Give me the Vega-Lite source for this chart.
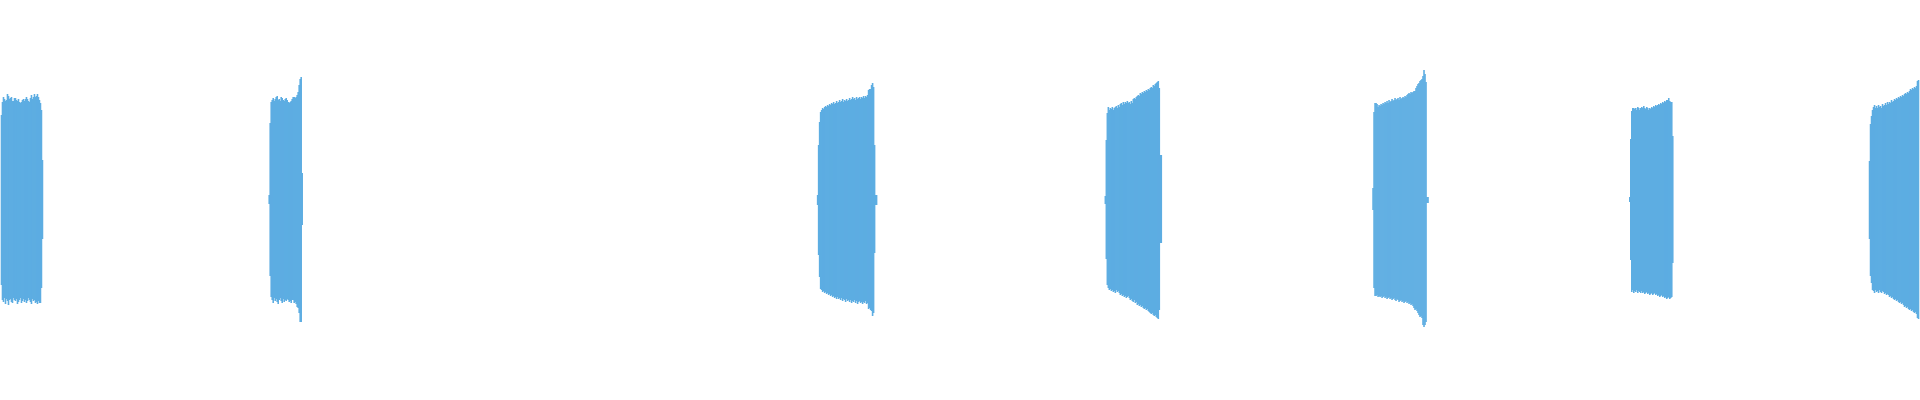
{
  "$schema": "https://vega.github.io/schema/vega-lite/v6.json",
  "width": 1920,
  "height": 400,
  "autosize": {"type": "fit", "contains": "padding"},
  "padding": 0,
  "background": "white",
  "data": {"values": [
    {"x":0,"hi":85,"lo":-85},
    {"x":1,"hi":98,"lo":-100},{"x":2,"hi":103,"lo":-102},{"x":3,"hi":101,"lo":-98},{"x":4,"hi":99,"lo":-104},{"x":5,"hi":100,"lo":-99},
    {"x":6,"hi":106,"lo":-101},{"x":7,"hi":104,"lo":-105},{"x":8,"hi":101,"lo":-100},{"x":9,"hi":102,"lo":-99},{"x":10,"hi":103,"lo":-102},
    {"x":11,"hi":99,"lo":-103},{"x":12,"hi":99,"lo":-98},{"x":13,"hi":102,"lo":-100},{"x":14,"hi":102,"lo":-101},{"x":15,"hi":100,"lo":-99},
    {"x":16,"hi":99,"lo":-104},{"x":17,"hi":101,"lo":-102},{"x":18,"hi":98,"lo":-100},{"x":19,"hi":97,"lo":-98},{"x":20,"hi":98,"lo":-103},
    {"x":21,"hi":100,"lo":-101},{"x":22,"hi":101,"lo":-99},{"x":23,"hi":99,"lo":-102},{"x":24,"hi":101,"lo":-100},{"x":25,"hi":103,"lo":-103},
    {"x":26,"hi":101,"lo":-101},{"x":27,"hi":99,"lo":-98},{"x":28,"hi":98,"lo":-100},{"x":29,"hi":102,"lo":-102},{"x":30,"hi":105,"lo":-104},
    {"x":31,"hi":101,"lo":-99},{"x":32,"hi":103,"lo":-101},{"x":33,"hi":106,"lo":-100},{"x":34,"hi":103,"lo":-103},{"x":35,"hi":104,"lo":-102},
    {"x":36,"hi":106,"lo":-104},{"x":37,"hi":103,"lo":-101},{"x":38,"hi":100,"lo":-103},{"x":39,"hi":97,"lo":-103},{"x":40,"hi":90,"lo":-88},
    {"x":41,"hi":40,"lo":-39},

    {"x":268,"hi":5,"lo":-4},{"x":269,"hi":77,"lo":-76},{"x":270,"hi":98,"lo":-97},
    {"x":271,"hi":100,"lo":-100},{"x":272,"hi":102,"lo":-103},{"x":273,"hi":99,"lo":-98},{"x":274,"hi":101,"lo":-101},{"x":275,"hi":103,"lo":-99},
    {"x":276,"hi":104,"lo":-102},{"x":277,"hi":100,"lo":-104},{"x":278,"hi":101,"lo":-100},{"x":279,"hi":99,"lo":-98},{"x":280,"hi":103,"lo":-101},
    {"x":281,"hi":102,"lo":-103},{"x":282,"hi":100,"lo":-99},{"x":283,"hi":99,"lo":-102},{"x":284,"hi":101,"lo":-100},{"x":285,"hi":102,"lo":-101},
    {"x":286,"hi":100,"lo":-99},{"x":287,"hi":98,"lo":-100},{"x":288,"hi":97,"lo":-102},{"x":289,"hi":98,"lo":-101},{"x":290,"hi":99,"lo":-103},
    {"x":291,"hi":101,"lo":-100},{"x":292,"hi":103,"lo":-100},{"x":293,"hi":103,"lo":-103},{"x":294,"hi":102,"lo":-102},{"x":295,"hi":103,"lo":-104},
    {"x":296,"hi":105,"lo":-107},{"x":297,"hi":108,"lo":-108},{"x":298,"hi":115,"lo":-113},{"x":299,"hi":121,"lo":-122},{"x":300,"hi":123,"lo":-122},
    {"x":301,"hi":27,"lo":-25},

    {"x":817,"hi":5,"lo":-5},{"x":818,"hi":55,"lo":-55},{"x":819,"hi":78,"lo":-77},{"x":820,"hi":88,"lo":-89},
    {"x":821,"hi":90,"lo":-90},{"x":822,"hi":92,"lo":-92},{"x":823,"hi":91,"lo":-91},{"x":824,"hi":93,"lo":-93},{"x":825,"hi":94,"lo":-92},
    {"x":826,"hi":93,"lo":-94},{"x":827,"hi":95,"lo":-93},{"x":828,"hi":94,"lo":-95},{"x":829,"hi":96,"lo":-94},{"x":830,"hi":95,"lo":-96},
    {"x":831,"hi":97,"lo":-95},{"x":832,"hi":96,"lo":-97},{"x":833,"hi":98,"lo":-96},{"x":834,"hi":96,"lo":-98},{"x":835,"hi":97,"lo":-97},
    {"x":836,"hi":99,"lo":-99},{"x":837,"hi":97,"lo":-97},{"x":838,"hi":98,"lo":-99},{"x":839,"hi":100,"lo":-98},{"x":840,"hi":98,"lo":-100},
    {"x":841,"hi":99,"lo":-98},{"x":842,"hi":101,"lo":-101},{"x":843,"hi":98,"lo":-99},{"x":844,"hi":100,"lo":-100},{"x":845,"hi":99,"lo":-102},
    {"x":846,"hi":101,"lo":-99},{"x":847,"hi":99,"lo":-101},{"x":848,"hi":100,"lo":-100},{"x":849,"hi":102,"lo":-102},{"x":850,"hi":100,"lo":-100},
    {"x":851,"hi":101,"lo":-103},{"x":852,"hi":103,"lo":-101},{"x":853,"hi":101,"lo":-102},{"x":854,"hi":102,"lo":-100},{"x":855,"hi":100,"lo":-103},
    {"x":856,"hi":103,"lo":-101},{"x":857,"hi":101,"lo":-104},{"x":858,"hi":102,"lo":-102},{"x":859,"hi":103,"lo":-101},{"x":860,"hi":101,"lo":-103},
    {"x":861,"hi":103,"lo":-102},{"x":862,"hi":102,"lo":-104},{"x":863,"hi":104,"lo":-102},{"x":864,"hi":102,"lo":-103},{"x":865,"hi":104,"lo":-101},
    {"x":866,"hi":103,"lo":-104},{"x":867,"hi":105,"lo":-103},{"x":868,"hi":110,"lo":-109},{"x":869,"hi":111,"lo":-108},{"x":870,"hi":111,"lo":-110},
    {"x":871,"hi":115,"lo":-111},{"x":872,"hi":117,"lo":-116},{"x":873,"hi":113,"lo":-113},{"x":874,"hi":55,"lo":-53},{"x":875,"hi":5,"lo":-5},
    {"x":876,"hi":5,"lo":-5},

    {"x":1105,"hi":4,"lo":-4},{"x":1106,"hi":60,"lo":-59},{"x":1107,"hi":87,"lo":-85},
    {"x":1108,"hi":93,"lo":-88},{"x":1109,"hi":90,"lo":-90},{"x":1110,"hi":92,"lo":-89},{"x":1111,"hi":91,"lo":-91},{"x":1112,"hi":93,"lo":-90},
    {"x":1113,"hi":90,"lo":-92},{"x":1114,"hi":92,"lo":-91},{"x":1115,"hi":93,"lo":-93},{"x":1116,"hi":94,"lo":-90},{"x":1117,"hi":92,"lo":-92},
    {"x":1118,"hi":95,"lo":-91},{"x":1119,"hi":93,"lo":-93},{"x":1120,"hi":96,"lo":-95},{"x":1121,"hi":97,"lo":-94},{"x":1122,"hi":95,"lo":-96},
    {"x":1123,"hi":98,"lo":-95},{"x":1124,"hi":96,"lo":-97},{"x":1125,"hi":98,"lo":-96},{"x":1126,"hi":97,"lo":-98},{"x":1127,"hi":99,"lo":-97},
    {"x":1128,"hi":97,"lo":-96},{"x":1129,"hi":98,"lo":-98},{"x":1130,"hi":96,"lo":-100},{"x":1131,"hi":99,"lo":-99},{"x":1132,"hi":97,"lo":-101},
    {"x":1133,"hi":101,"lo":-102},{"x":1134,"hi":102,"lo":-100},{"x":1135,"hi":101,"lo":-103},{"x":1136,"hi":103,"lo":-102},{"x":1137,"hi":104,"lo":-105},
    {"x":1138,"hi":105,"lo":-104},{"x":1139,"hi":104,"lo":-106},{"x":1140,"hi":107,"lo":-105},{"x":1141,"hi":106,"lo":-107},{"x":1142,"hi":108,"lo":-106},
    {"x":1143,"hi":107,"lo":-108},{"x":1144,"hi":109,"lo":-109},{"x":1145,"hi":108,"lo":-108},{"x":1146,"hi":110,"lo":-110},{"x":1147,"hi":109,"lo":-109},
    {"x":1148,"hi":111,"lo":-111},{"x":1149,"hi":110,"lo":-112},{"x":1150,"hi":112,"lo":-113},{"x":1151,"hi":113,"lo":-114},{"x":1152,"hi":112,"lo":-113},
    {"x":1153,"hi":115,"lo":-115},{"x":1154,"hi":114,"lo":-116},{"x":1155,"hi":116,"lo":-115},{"x":1156,"hi":117,"lo":-117},{"x":1157,"hi":118,"lo":-118},
    {"x":1158,"hi":119,"lo":-119},{"x":1159,"hi":112,"lo":-110},{"x":1160,"hi":45,"lo":-43},{"x":1161,"hi":45,"lo":-43},

    {"x":1373,"hi":12,"lo":-10},{"x":1374,"hi":88,"lo":-88},{"x":1375,"hi":97,"lo":-96},
    {"x":1376,"hi":97,"lo":-96},{"x":1377,"hi":96,"lo":-95},{"x":1378,"hi":93,"lo":-97},{"x":1379,"hi":95,"lo":-96},{"x":1380,"hi":94,"lo":-97},
    {"x":1381,"hi":96,"lo":-96},{"x":1382,"hi":95,"lo":-98},{"x":1383,"hi":97,"lo":-97},{"x":1384,"hi":96,"lo":-96},{"x":1385,"hi":98,"lo":-98},
    {"x":1386,"hi":97,"lo":-97},{"x":1387,"hi":99,"lo":-99},{"x":1388,"hi":97,"lo":-98},{"x":1389,"hi":100,"lo":-97},{"x":1390,"hi":98,"lo":-99},
    {"x":1391,"hi":99,"lo":-98},{"x":1392,"hi":101,"lo":-100},{"x":1393,"hi":99,"lo":-99},{"x":1394,"hi":100,"lo":-98},{"x":1395,"hi":102,"lo":-100},
    {"x":1396,"hi":100,"lo":-101},{"x":1397,"hi":101,"lo":-99},{"x":1398,"hi":102,"lo":-100},{"x":1399,"hi":100,"lo":-102},{"x":1400,"hi":103,"lo":-101},
    {"x":1401,"hi":101,"lo":-100},{"x":1402,"hi":102,"lo":-102},{"x":1403,"hi":103,"lo":-101},{"x":1404,"hi":102,"lo":-103},{"x":1405,"hi":104,"lo":-102},
    {"x":1406,"hi":103,"lo":-101},{"x":1407,"hi":105,"lo":-103},{"x":1408,"hi":106,"lo":-102},{"x":1409,"hi":107,"lo":-104},{"x":1410,"hi":106,"lo":-103},
    {"x":1411,"hi":108,"lo":-105},{"x":1412,"hi":107,"lo":-104},{"x":1413,"hi":108,"lo":-106},{"x":1414,"hi":109,"lo":-108},{"x":1415,"hi":109,"lo":-110},
    {"x":1416,"hi":112,"lo":-109},{"x":1417,"hi":114,"lo":-111},{"x":1418,"hi":116,"lo":-113},{"x":1419,"hi":117,"lo":-115},{"x":1420,"hi":119,"lo":-117},
    {"x":1421,"hi":120,"lo":-116},{"x":1422,"hi":121,"lo":-118},{"x":1423,"hi":124,"lo":-125},{"x":1424,"hi":130,"lo":-127},{"x":1425,"hi":126,"lo":-125},
    {"x":1426,"hi":118,"lo":-122},{"x":1427,"hi":3,"lo":-3},{"x":1428,"hi":3,"lo":-3},

    {"x":1630,"hi":3,"lo":-2},{"x":1631,"hi":61,"lo":-60},
    {"x":1632,"hi":89,"lo":-92},{"x":1633,"hi":92,"lo":-90},{"x":1634,"hi":92,"lo":-93},{"x":1635,"hi":91,"lo":-91},{"x":1636,"hi":92,"lo":-92},
    {"x":1637,"hi":90,"lo":-90},{"x":1638,"hi":93,"lo":-93},{"x":1639,"hi":92,"lo":-91},{"x":1640,"hi":90,"lo":-92},{"x":1641,"hi":92,"lo":-93},
    {"x":1642,"hi":93,"lo":-91},{"x":1643,"hi":92,"lo":-93},{"x":1644,"hi":94,"lo":-92},{"x":1645,"hi":92,"lo":-94},{"x":1646,"hi":91,"lo":-93},
    {"x":1647,"hi":93,"lo":-92},{"x":1648,"hi":92,"lo":-94},{"x":1649,"hi":90,"lo":-93},{"x":1650,"hi":92,"lo":-95},{"x":1651,"hi":91,"lo":-94},
    {"x":1652,"hi":93,"lo":-93},{"x":1653,"hi":92,"lo":-95},{"x":1654,"hi":94,"lo":-94},{"x":1655,"hi":93,"lo":-93},{"x":1656,"hi":95,"lo":-95},
    {"x":1657,"hi":94,"lo":-94},{"x":1658,"hi":95,"lo":-96},{"x":1659,"hi":96,"lo":-95},{"x":1660,"hi":95,"lo":-97},{"x":1661,"hi":97,"lo":-96},
    {"x":1662,"hi":96,"lo":-95},{"x":1663,"hi":98,"lo":-97},{"x":1664,"hi":97,"lo":-96},{"x":1665,"hi":99,"lo":-98},{"x":1666,"hi":98,"lo":-97},
    {"x":1667,"hi":100,"lo":-99},{"x":1668,"hi":100,"lo":-98},{"x":1669,"hi":102,"lo":-97},{"x":1670,"hi":99,"lo":-99},{"x":1671,"hi":98,"lo":-98},
    {"x":1672,"hi":98,"lo":-97},{"x":1673,"hi":64,"lo":-63},

    {"x":1870,"hi":39,"lo":-39},{"x":1871,"hi":76,"lo":-76},{"x":1872,"hi":84,"lo":-83},{"x":1873,"hi":90,"lo":-90},
    {"x":1874,"hi":93,"lo":-91},{"x":1875,"hi":95,"lo":-93},{"x":1876,"hi":92,"lo":-90},{"x":1877,"hi":94,"lo":-92},{"x":1878,"hi":92,"lo":-91},
    {"x":1879,"hi":95,"lo":-93},{"x":1880,"hi":93,"lo":-90},{"x":1881,"hi":94,"lo":-92},{"x":1882,"hi":92,"lo":-93},{"x":1883,"hi":96,"lo":-91},
    {"x":1884,"hi":94,"lo":-92},{"x":1885,"hi":95,"lo":-94},{"x":1886,"hi":97,"lo":-93},{"x":1887,"hi":95,"lo":-95},{"x":1888,"hi":98,"lo":-94},
    {"x":1889,"hi":96,"lo":-95},{"x":1890,"hi":98,"lo":-97},{"x":1891,"hi":97,"lo":-96},{"x":1892,"hi":100,"lo":-98},{"x":1893,"hi":98,"lo":-97},
    {"x":1894,"hi":99,"lo":-99},{"x":1895,"hi":101,"lo":-100},{"x":1896,"hi":100,"lo":-99},{"x":1897,"hi":102,"lo":-101},{"x":1898,"hi":101,"lo":-100},
    {"x":1899,"hi":103,"lo":-102},{"x":1900,"hi":102,"lo":-103},{"x":1901,"hi":104,"lo":-102},{"x":1902,"hi":103,"lo":-104},{"x":1903,"hi":105,"lo":-103},
    {"x":1904,"hi":104,"lo":-105},{"x":1905,"hi":106,"lo":-107},{"x":1906,"hi":107,"lo":-106},{"x":1907,"hi":106,"lo":-108},{"x":1908,"hi":108,"lo":-107},
    {"x":1909,"hi":107,"lo":-109},{"x":1910,"hi":109,"lo":-110},{"x":1911,"hi":111,"lo":-109},{"x":1912,"hi":110,"lo":-111},{"x":1913,"hi":112,"lo":-110},
    {"x":1914,"hi":111,"lo":-112},{"x":1915,"hi":113,"lo":-113},{"x":1916,"hi":112,"lo":-112},{"x":1917,"hi":114,"lo":-114},{"x":1918,"hi":119,"lo":-118},
    {"x":1919,"hi":120,"lo":-119}
  ]},
  "mark": {"type": "bar", "width": 1.6, "color": "#5dade2"},
  "encoding": {
    "x": {"field": "x", "type": "quantitative", "axis": null,
      "scale": {"domain": [-0.5, 1919.5], "nice": false, "zero": false, "padding": 0}},
    "y": {"field": "hi", "type": "quantitative", "axis": null,
      "scale": {"domain": [-200, 200], "nice": false}},
    "y2": {"field": "lo"}
  },
  "config": {"view": {"stroke": null}}
}
